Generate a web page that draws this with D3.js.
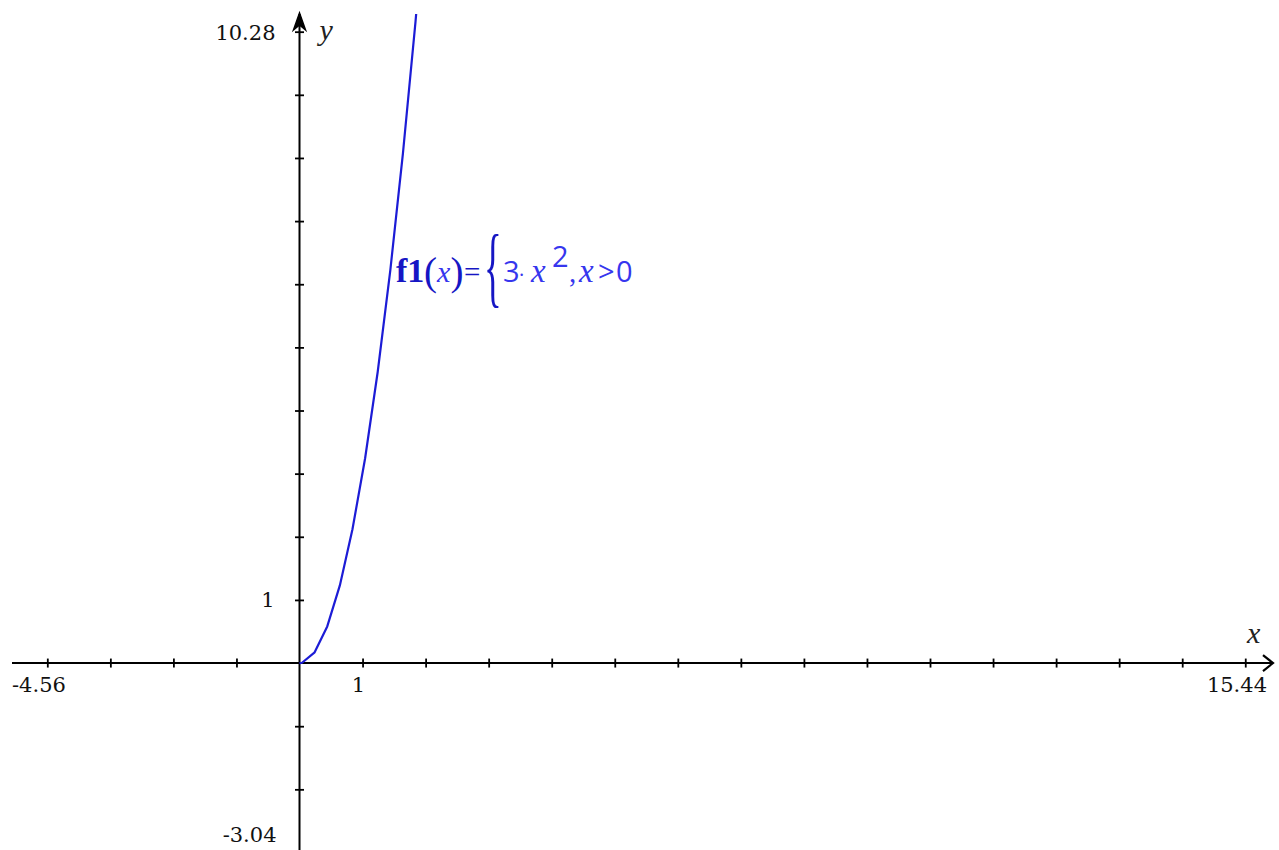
<!DOCTYPE html>
<html>
<head>
<meta charset="utf-8">
<script src="https://cdn.jsdelivr.net/npm/d3@7"></script>
<style>
  html, body { margin: 0; padding: 0; background: #fff; }
  svg { display: block; }
</style>
</head>
<body>
<div id="graph"></div>
<script>
// window of the graph (from the corner labels)
var xWindow = [-4.56, 15.44];
var yWindow = [-3.04, 10.28];

// integer tick marks on each axis
var xTicks = [-4, -3, -2, -1, 1, 2, 3, 4, 5, 6, 7, 8, 9, 10, 11, 12, 13, 14, 15];
var yTicks = [-3, -2, -1, 1, 2, 3, 4, 5, 6, 7, 8, 9, 10];

var curveX = [0, 0.04, 0.24, 0.44, 0.64, 0.84, 1.04, 1.24, 1.44, 1.64, 1.84, 2.04];
var curveY = [0, 0.005, 0.17, 0.58, 1.23, 2.12, 3.24, 4.61, 6.22, 8.07, 10.16, 12.48];

var svgWidth = 1279;
var svgHeight = 850;

var svg = d3.select("#graph").append("svg")
  .attr("width", svgWidth)
  .attr("height", svgHeight);

// equal scale on both axes, y window runs a bit past the bottom edge
var xScale = d3.scaleLinear().domain(xWindow).range([12, 1273]);
var yScale = d3.scaleLinear().domain(yWindow).range([855, 14]);

var x0 = xScale(0);
var y0 = yScale(0);

// axes lines
svg.append("line")
  .attr("x1", xScale(xWindow[0])).attr("x2", xScale(xWindow[1]))
  .attr("y1", y0).attr("y2", y0)
  .attr("stroke", "#000").attr("stroke-width", 2);

svg.append("line")
  .attr("x1", x0).attr("x2", x0)
  .attr("y1", yScale(yWindow[1])).attr("y2", svgHeight)
  .attr("stroke", "#000").attr("stroke-width", 2);

// tick marks, crossing the axis
var xAxis = d3.axisBottom(xScale).tickValues(xTicks).tickSize(9).tickSizeOuter(0).tickFormat("");
var gx = svg.append("g")
  .attr("transform", `translate(0, ${y0 - 4.5})`)
  .call(xAxis);
gx.select(".domain").remove();
gx.selectAll("line").attr("stroke", "#000").attr("stroke-width", 1.8);

var yAxis = d3.axisRight(yScale).tickValues(yTicks).tickSize(9).tickSizeOuter(0).tickFormat("");
var gy = svg.append("g")
  .attr("transform", `translate(${x0 - 4.5}, 0)`)
  .call(yAxis);
gy.select(".domain").remove();
gy.selectAll("line").attr("stroke", "#000").attr("stroke-width", 1.8);

// arrow heads
var xe = xScale(xWindow[1]);
svg.append("path")
  .attr("d", `M${xe - 10},${y0 - 8} L${xe},${y0} L${xe - 10},${y0 + 8}`)
  .attr("fill", "none").attr("stroke", "#000").attr("stroke-width", 2.2);

var ye = yScale(yWindow[1]) - 1;
svg.append("path")
  .attr("d", `M${x0},${ye} L${x0 + 6},${ye + 17} L${x0},${ye + 12} L${x0 - 6},${ye + 17} Z`)
  .attr("fill", "#000").attr("stroke", "#000").attr("stroke-width", 1.5);

// window labels and unit labels
var labelFont = "'DejaVu Serif', serif";
var labelSize = "21px";

svg.append("text")
  .attr("x", xScale(xWindow[0])).attr("y", y0 + 29)
  .attr("font-family", labelFont).attr("font-size", labelSize).attr("fill", "#111")
  .text("-4.56");

svg.append("text")
  .attr("x", xScale(1) - 4).attr("y", y0 + 29)
  .attr("text-anchor", "middle")
  .attr("font-family", labelFont).attr("font-size", labelSize).attr("fill", "#111")
  .text("1");

svg.append("text")
  .attr("x", xScale(xWindow[1]) - 6).attr("y", y0 + 29)
  .attr("text-anchor", "end")
  .attr("font-family", labelFont).attr("font-size", labelSize).attr("fill", "#111")
  .text("15.44");

svg.append("text")
  .attr("x", x0 - 24).attr("y", yScale(yWindow[1]) + 26)
  .attr("text-anchor", "end")
  .attr("font-family", labelFont).attr("font-size", labelSize).attr("fill", "#111")
  .text("10.28");

svg.append("text")
  .attr("x", x0 - 25).attr("y", yScale(1) + 7)
  .attr("text-anchor", "end")
  .attr("font-family", labelFont).attr("font-size", labelSize).attr("fill", "#111")
  .text("1");

svg.append("text")
  .attr("x", x0 - 23).attr("y", svgHeight - 8)
  .attr("text-anchor", "end")
  .attr("font-family", labelFont).attr("font-size", labelSize).attr("fill", "#111")
  .text("-3.04");

// axis names
svg.append("text")
  .attr("x", 1247).attr("y", y0 - 20)
  .attr("font-family", "'Liberation Serif', serif").attr("font-style", "italic")
  .attr("font-size", "30px").attr("fill", "#222")
  .text("x");

svg.append("text")
  .attr("x", x0 + 20).attr("y", yScale(yWindow[1]) + 26)
  .attr("font-family", "'Liberation Serif', serif").attr("font-style", "italic")
  .attr("font-size", "30px").attr("fill", "#222")
  .text("y");

// the function graph, clipped to the window
svg.append("clipPath").attr("id", "plotClip")
  .append("rect")
  .attr("x", xScale(xWindow[0])).attr("y", yScale(yWindow[1]))
  .attr("width", xScale(xWindow[1]) - xScale(xWindow[0]))
  .attr("height", yScale(yWindow[0]) - yScale(yWindow[1]));

var line = d3.line()
  .x((d, i) => xScale(curveX[i]))
  .y((d, i) => yScale(curveY[i]));

svg.append("path")
  .datum(curveX)
  .attr("clip-path", "url(#plotClip)")
  .attr("d", line)
  .attr("fill", "none")
  .attr("stroke", "#1c1cd6")
  .attr("stroke-width", 2.2)
  .attr("stroke-linejoin", "round");

// function label
var lab = svg.append("g")
  .attr("transform", `translate(${xScale(1.53)}, ${yScale(6.04)})`);

var dark = "#1616c4";
var light = "#3636ee";
var serif = "'Liberation Serif', serif";
var sans = "'Open Sans', sans-serif";

// f1(x)=
var t1 = lab.append("text").attr("y", 0).attr("fill", dark);
t1.append("tspan").attr("x", 0)
  .attr("font-family", serif).attr("font-weight", "bold").attr("font-size", "34px")
  .text("f1");
t1.append("tspan").attr("x", 28).attr("dy", 3)
  .attr("font-family", serif).attr("font-size", "39px")
  .text("(");
t1.append("tspan").attr("x", 41).attr("dy", -3)
  .attr("font-family", serif).attr("font-style", "italic").attr("font-size", "30px").attr("fill", light)
  .text("x");
t1.append("tspan").attr("x", 54.5).attr("dy", 3)
  .attr("font-family", serif).attr("font-size", "39px")
  .text(")");
t1.append("tspan").attr("x", 68).attr("dy", -3)
  .attr("font-family", serif).attr("font-size", "29px")
  .text("=");

// tall brace
lab.append("text").attr("x", 88).attr("y", 14)
  .attr("font-family", serif).attr("font-size", "88px").attr("fill", dark)
  .attr("transform", "translate(88,0) scale(0.42,1) translate(-88,0)")
  .text("{");

// 3·x^2,x>0
var t2 = lab.append("text").attr("y", 0).attr("fill", light);
t2.append("tspan").attr("x", 107)
  .attr("font-family", sans).attr("font-size", "29px")
  .text("3");
t2.append("tspan").attr("x", 123)
  .attr("font-family", sans).attr("font-size", "20px")
  .text("·");
t2.append("tspan").attr("x", 135)
  .attr("font-family", serif).attr("font-style", "italic").attr("font-size", "33px")
  .text("x");
t2.append("tspan").attr("x", 156).attr("dy", -15)
  .attr("font-family", sans).attr("font-size", "29px")
  .text("2");
t2.append("tspan").attr("x", 173).attr("dy", 15)
  .attr("font-family", serif).attr("font-size", "29px")
  .text(",");
t2.append("tspan").attr("x", 183)
  .attr("font-family", serif).attr("font-style", "italic").attr("font-size", "33px")
  .text("x");
t2.append("tspan").attr("x", 202)
  .attr("font-family", sans).attr("font-size", "29px")
  .text(">");
t2.append("tspan").attr("x", 220)
  .attr("font-family", sans).attr("font-size", "29px")
  .text("0");
</script>
</body>
</html>
